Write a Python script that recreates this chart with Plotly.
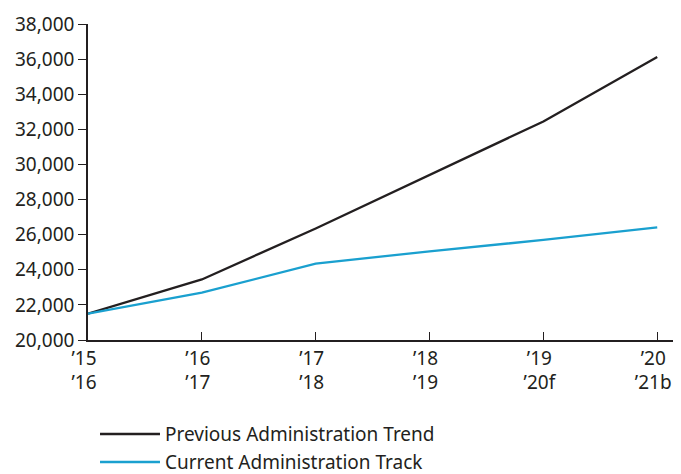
import plotly.graph_objects as go

categories = ["’15<br>’16", "’16<br>’17", "’17<br>’18", "’18<br>’19", "’19<br>’20f", "’20<br>’21b"]
previous_trend = [21500, 23450, 26350, 29400, 32450, 36120]
current_track = [21500, 22700, 24350, 25050, 25700, 26420]
series_names = ["Previous Administration Trend", "Current Administration Track"]
series_colors = ["#231f20", "#1aa0cf"]

x_idx = list(range(len(categories)))
font_family = "Noto Sans"
text_color = "#231f20"

fig = go.Figure()
for name, vals, col in zip(series_names, [previous_trend, current_track], series_colors):
    fig.add_trace(go.Scatter(x=x_idx, y=vals, mode="lines", name=name,
                             line=dict(color=col, width=2.3), showlegend=False))

# manual legend below the plot
legend_rows_y = [-0.2975, -0.386]
for name, col, yy in zip(series_names, series_colors, legend_rows_y):
    fig.add_shape(type="line", xref="paper", yref="paper",
                  x0=0.0203, x1=0.1216, y0=yy, y1=yy,
                  line=dict(color=col, width=2.3))
    fig.add_annotation(xref="paper", yref="paper", x=0.1267, y=yy,
                       xanchor="left", yanchor="middle", showarrow=False,
                       text=name, font=dict(size=19, family=font_family, color=text_color))

# page body has an 8px default margin; figure offset accordingly
fig.update_layout(
    width=673, height=466,
    margin=dict(l=80, r=1, t=16, b=134),
    paper_bgcolor="white", plot_bgcolor="white",
    font=dict(family=font_family, size=19, color=text_color),
    showlegend=False,
)
fig.update_xaxes(
    range=[0, 5.2], tickmode="array", tickvals=x_idx, ticktext=categories,
    showgrid=False, zeroline=False, showline=True, linecolor=text_color, linewidth=1.5,
    ticks="inside", ticklen=8, tickwidth=1.2, tickcolor=text_color,
    tickfont=dict(size=19, family=font_family, color=text_color),
    ticklabeloverflow="allow", ticklabelshift=-4, automargin=False,
)
fig.update_yaxes(
    range=[20000, 38000], dtick=2000, tick0=20000, tickformat=",",
    showgrid=False, zeroline=False, showline=True, linecolor=text_color, linewidth=1.5,
    ticks="outside", ticklen=8, tickwidth=1.2, tickcolor=text_color,
    tickfont=dict(size=19, family=font_family, color=text_color),
    automargin=False,
)

fig.write_html("out.html")
